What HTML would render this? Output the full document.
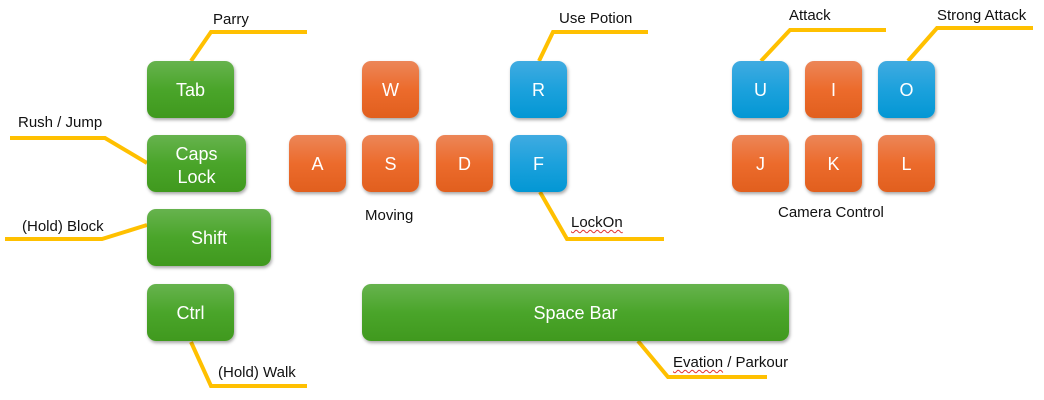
<!DOCTYPE html>
<html><head><meta charset="utf-8"><style>
html,body{margin:0;padding:0;background:#fff;}
body{width:1044px;height:400px;position:relative;overflow:hidden;font-family:"Liberation Sans",sans-serif;}
.k{position:absolute;box-sizing:border-box;padding-top:2px;border-radius:9px;color:#fff;font-size:18px;display:flex;align-items:center;justify-content:center;text-align:center;line-height:23px;box-shadow:1px 2px 3px rgba(0,0,0,0.35);}
.g{background:linear-gradient(#67b34e,#4aa52a 50%,#40991e);}
.o{background:linear-gradient(#ec8658,#ec6b2c 50%,#e15f1e);}
.b{background:linear-gradient(#40abe1,#1ca1dc 50%,#0397d4);}
.t{position:absolute;font-size:15px;color:#111;white-space:nowrap;line-height:18px;}
.w{text-decoration:underline wavy #e03030;text-decoration-thickness:1px;text-underline-offset:2px;}
svg{position:absolute;left:0;top:0;}
</style></head><body>
<svg width="1044" height="400">
<g fill="none" stroke="#ffc000" stroke-width="4" stroke-linejoin="miter">
<polyline points="191,61 211,32 307,32"/>
<polyline points="10,138 105,138 147,163"/>
<polyline points="5,239 102,239 147,225"/>
<polyline points="191,342 211,386 307,386"/>
<polyline points="539,61 553,32 648,32"/>
<polyline points="540,192 567,239 664,239"/>
<polyline points="761,61 790,30 886,30"/>
<polyline points="908,61 937,28 1033,28"/>
<polyline points="638,341 668,377 767,377"/>
</g>
</svg>
<div class="k g" style="left:147px;top:61px;width:87px;height:57px;">Tab</div>
<div class="k g" style="left:147px;top:135px;width:99px;height:57px;padding-top:4px;line-height:23px;">Caps<br>Lock</div>
<div class="k g" style="left:147px;top:209px;width:124px;height:57px;">Shift</div>
<div class="k g" style="left:147px;top:284px;width:87px;height:57px;">Ctrl</div>
<div class="k o" style="left:362px;top:61px;width:57px;height:57px;">W</div>
<div class="k o" style="left:289px;top:135px;width:57px;height:57px;">A</div>
<div class="k o" style="left:362px;top:135px;width:57px;height:57px;">S</div>
<div class="k o" style="left:436px;top:135px;width:57px;height:57px;">D</div>
<div class="k b" style="left:510px;top:61px;width:57px;height:57px;">R</div>
<div class="k b" style="left:510px;top:135px;width:57px;height:57px;">F</div>
<div class="k b" style="left:732px;top:61px;width:57px;height:57px;">U</div>
<div class="k o" style="left:805px;top:61px;width:57px;height:57px;">I</div>
<div class="k b" style="left:878px;top:61px;width:57px;height:57px;">O</div>
<div class="k o" style="left:732px;top:135px;width:57px;height:57px;">J</div>
<div class="k o" style="left:805px;top:135px;width:57px;height:57px;">K</div>
<div class="k o" style="left:878px;top:135px;width:57px;height:57px;">L</div>
<div class="k g" style="left:362px;top:284px;width:427px;height:57px;">Space Bar</div>

<div class="t" style="left:213px;top:11px;">Parry</div>
<div class="t" style="left:18px;top:114px;">Rush / Jump</div>
<div class="t" style="left:22px;top:218px;">(Hold) Block</div>
<div class="t" style="left:218px;top:364px;">(Hold) Walk</div>
<div class="t" style="left:559px;top:10px;">Use Potion</div>
<div class="t" style="left:571px;top:214px;"><span class="w">LockOn</span></div>
<div class="t" style="left:365px;top:207px;">Moving</div>
<div class="t" style="left:789px;top:7px;">Attack</div>
<div class="t" style="left:937px;top:7px;">Strong Attack</div>
<div class="t" style="left:778px;top:204px;">Camera Control</div>
<div class="t" style="left:673px;top:354px;"><span class="w">Evation</span> / Parkour</div>
</body></html>
